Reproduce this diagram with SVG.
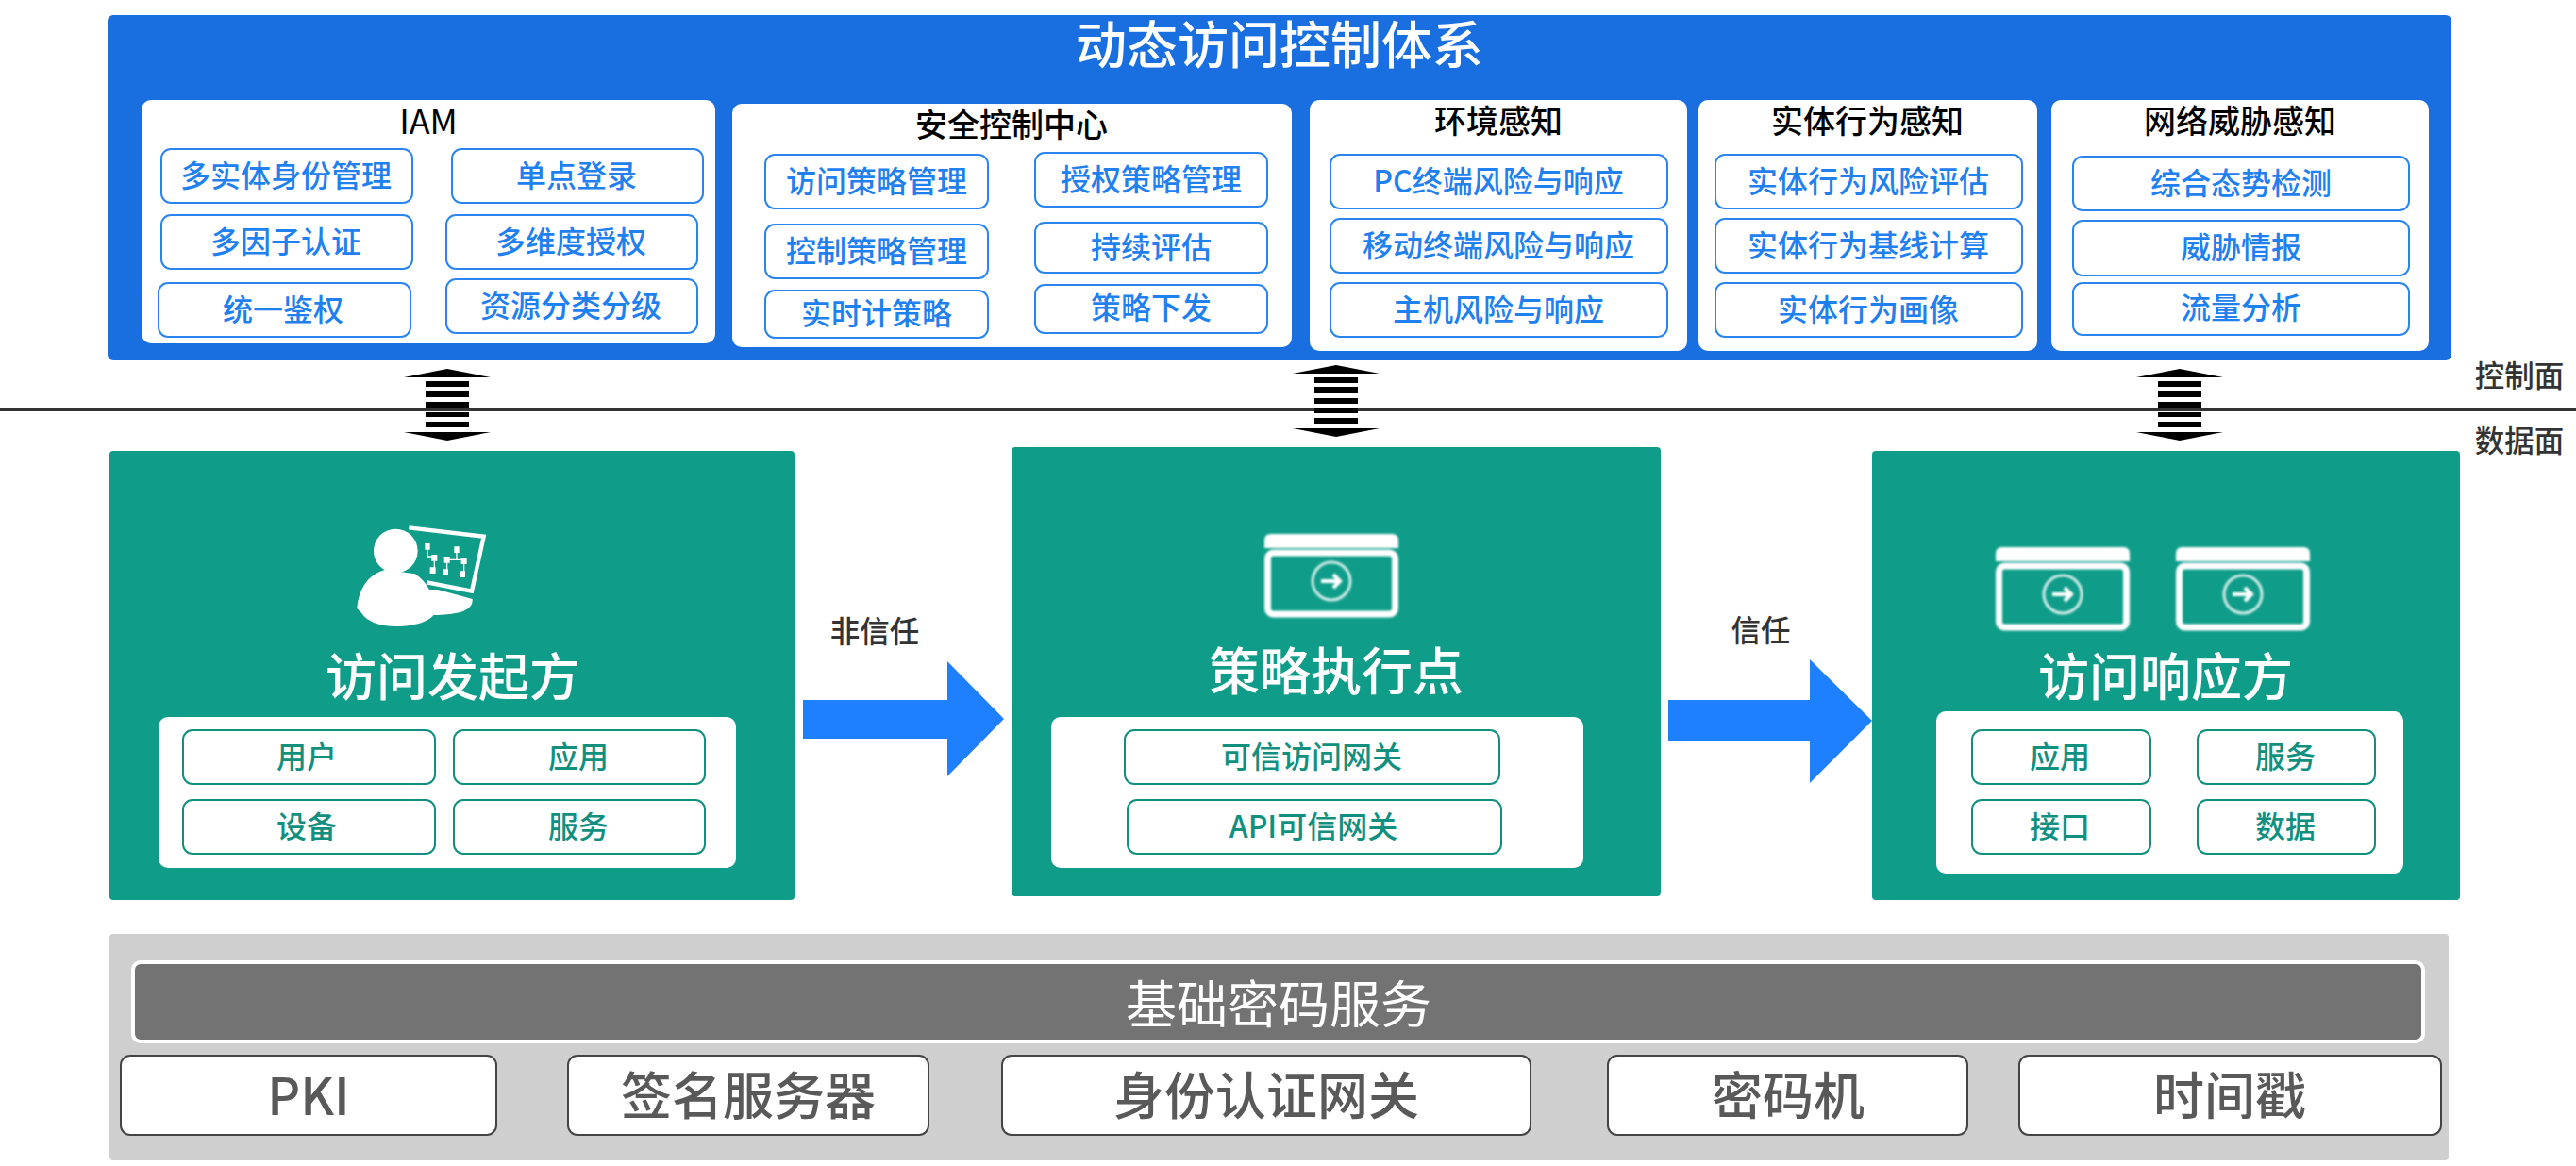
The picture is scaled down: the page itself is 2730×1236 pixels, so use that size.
<svg xmlns="http://www.w3.org/2000/svg" width="2730" height="1236" viewBox="0 0 2730 1236">
<style>
text{font-family:"Noto Sans CJK SC","Noto Sans",sans-serif;text-anchor:middle;dominant-baseline:central;transform:translateY(-2px)}
.card{fill:#fff}
.blue{fill:#fff;stroke:#2a85ee;stroke-width:2}
.bt{fill:#1f80f0;font-size:32px;font-weight:500}
.head{fill:#000;font-size:34px;font-weight:500}
.iam{fill:#000;font-size:36px;font-weight:400}
.teal{fill:#0f9d8a}
.tb{fill:#fff;stroke:#12907f;stroke-width:2}
.tt{fill:#12907f;font-size:32px;font-weight:500}
.big{fill:#fff;font-size:54px;font-weight:500;transform:translateY(-3px)}
.lab{fill:#333;font-size:31.5px;font-weight:500}
.gb{fill:#fff;stroke:#444;stroke-width:2}
.gt{fill:#595959;font-size:54px;font-weight:500}
.ar{fill:#1f80ff}
</style>
<defs>
<filter id="soft" x="-10%" y="-10%" width="120%" height="120%"><feGaussianBlur stdDeviation="1"/></filter>
<g id="dbl">
<path d="M-46 9L0 0L46 9Z"/>
<path d="M-23 13h46v6h-46zM-23 23h46v7h-46zM-23 35h46v6h-46zM-23 46h46v5h-46zM-23 56h46v6h-46z"/>
<path d="M-46 67L0 76L46 67Z"/>
</g>
<g id="win" fill="none" stroke="#fff" filter="url(#soft)">
<path d="M0 15V7Q0 0 7 0H135Q142 0 142 7V15Z" fill="#fff" stroke="none"/>
<rect x="3.500" y="20" width="135" height="65" rx="6" stroke-width="7"/>
<circle cx="71" cy="50" r="20" stroke-width="3" stroke-opacity=".8"/>
<path d="M60 50H80M73 43L80 50L73 57" stroke-width="4"/>
</g>
</defs>

<g id="control-plane">
<rect x="114" y="16" width="2484" height="366" rx="6" fill="#1a6fe0"/>
<text class="big" x="1356" y="47">动态访问控制体系</text>
</g>

<g id="iam">
<rect class="card" x="150" y="106" width="608" height="258" rx="10"/>
<text class="iam" x="454" y="128">IAM</text>
<rect class="blue" x="171" y="158" width="266" height="57" rx="10"/><text class="bt" x="303" y="186">多实体身份管理</text>
<rect class="blue" x="479" y="158" width="266" height="57" rx="10"/><text class="bt" x="611" y="186">单点登录</text>
<rect class="blue" x="171" y="228" width="266" height="57" rx="10"/><text class="bt" x="303" y="256">多因子认证</text>
<rect class="blue" x="473" y="228" width="266" height="57" rx="10"/><text class="bt" x="605" y="256">多维度授权</text>
<rect class="blue" x="168" y="300" width="267" height="57" rx="10"/><text class="bt" x="300" y="328">统一鉴权</text>
<rect class="blue" x="473" y="296" width="266" height="57" rx="10"/><text class="bt" x="605" y="324">资源分类分级</text>
</g>

<g id="security-center">
<rect class="card" x="776" y="110" width="593" height="258" rx="10"/>
<text class="head" x="1072" y="132">安全控制中心</text>
<rect class="blue" x="811" y="164" width="236" height="57" rx="10"/><text class="bt" x="929" y="192">访问策略管理</text>
<rect class="blue" x="1097" y="162" width="246" height="57" rx="10"/><text class="bt" x="1220" y="190">授权策略管理</text>
<rect class="blue" x="811" y="238" width="236" height="57" rx="10"/><text class="bt" x="929" y="266">控制策略管理</text>
<rect class="blue" x="1097" y="236" width="246" height="53" rx="10"/><text class="bt" x="1220" y="262">持续评估</text>
<rect class="blue" x="811" y="308" width="236" height="50" rx="10"/><text class="bt" x="929" y="332">实时计策略</text>
<rect class="blue" x="1097" y="302" width="246" height="51" rx="10"/><text class="bt" x="1220" y="326">策略下发</text>
</g>

<g id="env-sense">
<rect class="card" x="1388" y="106" width="400" height="266" rx="10"/>
<text class="head" x="1588" y="128">环境感知</text>
<rect class="blue" x="1410" y="164" width="357" height="57" rx="10"/><text class="bt" x="1588" y="192">PC终端风险与响应</text>
<rect class="blue" x="1410" y="232" width="357" height="57" rx="10"/><text class="bt" x="1588" y="260">移动终端风险与响应</text>
<rect class="blue" x="1410" y="300" width="357" height="57" rx="10"/><text class="bt" x="1588" y="328">主机风险与响应</text>
</g>

<g id="entity-sense">
<rect class="card" x="1800" y="106" width="359" height="266" rx="10"/>
<text class="head" x="1979" y="128">实体行为感知</text>
<rect class="blue" x="1818" y="164" width="325" height="57" rx="10"/><text class="bt" x="1980" y="192">实体行为风险评估</text>
<rect class="blue" x="1818" y="232" width="325" height="57" rx="10"/><text class="bt" x="1980" y="260">实体行为基线计算</text>
<rect class="blue" x="1818" y="300" width="325" height="57" rx="10"/><text class="bt" x="1980" y="328">实体行为画像</text>
</g>

<g id="net-sense">
<rect class="card" x="2174" y="106" width="400" height="266" rx="10"/>
<text class="head" x="2374" y="128">网络威胁感知</text>
<rect class="blue" x="2197" y="166" width="356" height="57" rx="10"/><text class="bt" x="2375" y="194">综合态势检测</text>
<rect class="blue" x="2197" y="234" width="356" height="58" rx="10"/><text class="bt" x="2375" y="262">威胁情报</text>
<rect class="blue" x="2197" y="300" width="356" height="55" rx="10"/><text class="bt" x="2375" y="326">流量分析</text>
</g>

<g id="connectors">
<line x1="0" y1="434" x2="2730" y2="434" stroke="#333" stroke-width="4"/>
<use href="#dbl" x="474" y="391"/>
<use href="#dbl" x="1416" y="387"/>
<use href="#dbl" x="2310" y="391"/>
<path class="ar" d="M851 742H1004V701L1064 762L1004 823V783H851Z"/>
<path class="ar" d="M1768 742H1918V699L1984 764L1918 830V786H1768Z"/>
</g>

<g id="plane-labels">
<text class="lab" x="2670" y="398">控制面</text>
<text class="lab" x="2670" y="467">数据面</text>
<text class="lab" x="927" y="669">非信任</text>
<text class="lab" x="1866" y="668">信任</text>
</g>

<g id="initiator">
<rect class="teal" x="116" y="478" width="726" height="476" rx="4"/>
<g filter="url(#soft)" transform="translate(340 530) scale(.3333)">
<path d="M280 88L518 116L480 290L338 262" fill="none" stroke="#fff" stroke-width="13"/>
<circle cx="238" cy="162" r="70" fill="#fff"/>
<path d="M115 345C120 285 150 235 205 222L300 235C320 250 335 265 345 285L372 285L482 315Q485 345 440 358Q400 368 358 366C345 385 300 402 240 402C185 402 145 385 130 360Z" fill="#fff"/>
<path d="M331 138h16v20h-16zM424 148h16v20h-16zM352 174h18v20h-18zM392 180h18v20h-18zM446 184h18v20h-18zM347 214h18v20h-18zM387 220h18v20h-18zM441 226h18v20h-18z" fill="#fff"/>
<path d="M339 158V180H358M361 194V215M401 200V222M432 168V190H402M432 190H455V228" fill="none" stroke="#fff" stroke-width="4"/>
</g>
<text class="big" x="480" y="717">访问发起方</text>
<rect class="card" x="168" y="760" width="612" height="160" rx="10"/>
<rect class="tb" x="194" y="774" width="267" height="57" rx="10"/><text class="tt" x="325" y="802">用户</text>
<rect class="tb" x="481" y="774" width="266" height="57" rx="10"/><text class="tt" x="613" y="802">应用</text>
<rect class="tb" x="194" y="848" width="267" height="57" rx="10"/><text class="tt" x="325" y="876">设备</text>
<rect class="tb" x="481" y="848" width="266" height="57" rx="10"/><text class="tt" x="613" y="876">服务</text>
</g>

<g id="enforcement-point">
<rect class="teal" x="1072" y="474" width="688" height="476" rx="4"/>
<use href="#win" x="1340" y="566"/>
<text class="big" x="1416" y="711">策略执行点</text>
<rect class="card" x="1114" y="760" width="564" height="160" rx="10"/>
<rect class="tb" x="1192" y="774" width="397" height="57" rx="10"/><text class="tt" x="1390" y="802">可信访问网关</text>
<rect class="tb" x="1195" y="848" width="396" height="57" rx="10"/><text class="tt" x="1392" y="876">API可信网关</text>
</g>

<g id="responder">
<rect class="teal" x="1984" y="478" width="623" height="476" rx="4"/>
<use href="#win" x="2115" y="580"/>
<use href="#win" x="2306" y="580"/>
<text class="big" x="2295" y="717">访问响应方</text>
<rect class="card" x="2052" y="754" width="495" height="172" rx="10"/>
<rect class="tb" x="2090" y="774" width="189" height="57" rx="10"/><text class="tt" x="2183" y="802">应用</text>
<rect class="tb" x="2329" y="774" width="188" height="57" rx="10"/><text class="tt" x="2422" y="802">服务</text>
<rect class="tb" x="2090" y="848" width="189" height="57" rx="10"/><text class="tt" x="2183" y="876">接口</text>
<rect class="tb" x="2329" y="848" width="188" height="57" rx="10"/><text class="tt" x="2422" y="876">数据</text>
</g>

<g id="crypto-services">
<rect x="116" y="990" width="2479" height="240" rx="4" fill="#cfcfcf"/>
<rect x="141" y="1020" width="2427" height="84" rx="8" fill="#737373" stroke="#fff" stroke-width="4"/>
<text x="1355" y="1063" style="fill:#fff;font-size:54px">基础密码服务</text>
</g>
<g id="pki"><rect class="gb" x="128" y="1119" width="398" height="84" rx="10"/><text class="gt" x="327" y="1160">PKI</text></g>
<g id="sign-server"><rect class="gb" x="602" y="1119" width="382" height="84" rx="10"/><text class="gt" x="793" y="1160">签名服务器</text></g>
<g id="auth-gateway"><rect class="gb" x="1062" y="1119" width="560" height="84" rx="10"/><text class="gt" x="1342" y="1160">身份认证网关</text></g>
<g id="hsm"><rect class="gb" x="1704" y="1119" width="381" height="84" rx="10"/><text class="gt" x="1895" y="1160">密码机</text></g>
<g id="timestamp"><rect class="gb" x="2140" y="1119" width="447" height="84" rx="10"/><text class="gt" x="2363" y="1160">时间戳</text></g>
</svg>
